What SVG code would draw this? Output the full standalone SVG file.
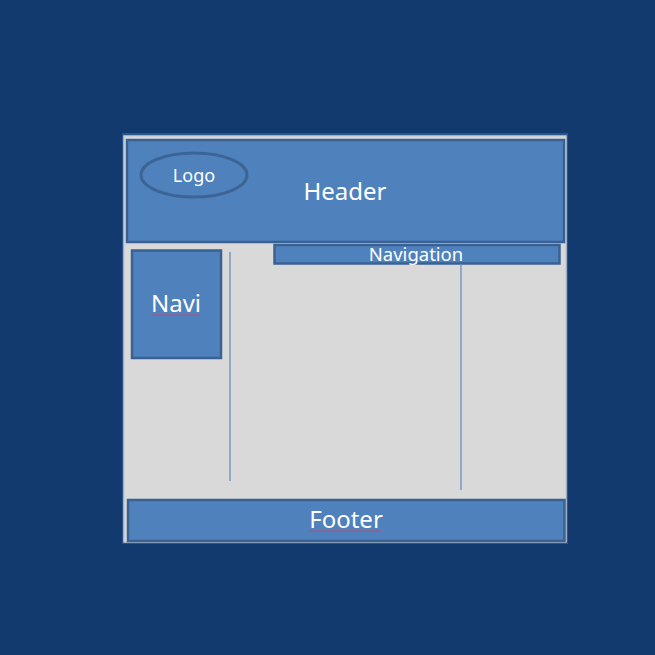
<svg xmlns="http://www.w3.org/2000/svg" width="655" height="655" viewBox="0 0 655 655">
<style>
.box{fill:#4f81bd;stroke:#3a6192;stroke-width:2.5}
.t{font-family:"Noto Sans","Open Sans",sans-serif;fill:#ffffff;text-anchor:middle;dominant-baseline:central}
.vl{stroke:#5a8ac4;stroke-width:1.2;fill:none}
.sq{stroke:#d04060;stroke-width:0.8;fill:none}
</style>
<rect x="0" y="0" width="655" height="655" fill="#123a6e"/>
<g id="page">
<rect x="122" y="133" width="446" height="411" fill="#2a5690"/>
<rect x="124" y="136" width="442" height="406" fill="#d9d9d9" stroke="#c4cbd4" stroke-width="1.5"/>
</g>
<g id="header">
<rect class="box" x="127" y="140" width="437" height="102"/>
<text class="t" x="345" y="190.5" font-size="24">Header</text>
</g>
<g id="logo">
<ellipse cx="194" cy="175" rx="53" ry="22" fill="#4f81bd" stroke="#3c6496" stroke-width="3"/>
<text class="t" x="194" y="175" font-size="18">Logo</text>
</g>
<g id="navigation">
<rect class="box" x="274.5" y="245" width="285" height="18.5"/>
<text class="t" x="416" y="253" font-size="18.5">Navigation</text>
</g>
<g id="navi">
<rect class="box" x="132" y="250.5" width="89" height="107.5"/>
<text class="t" x="176" y="302.5" font-size="24">Navi</text>
<path class="sq" d="M151 314.5 l2 1 2 -1 2 1 2 -1 2 1 2 -1 2 1 2 -1 2 1 2 -1 2 1 2 -1 2 1 2 -1 2 1 2 -1 2 1 2 -1 2 1 2 -1 2 1 2 -1 2 1 2 -1"/>
</g>
<g id="footer">
<rect class="box" x="128" y="500" width="436.5" height="41"/>
<text class="t" x="346" y="518.5" font-size="24">Footer</text>
<path class="sq" d="M309 530.5 l2 1 2 -1 2 1 2 -1 2 1 2 -1 2 1 2 -1 2 1 2 -1 2 1 2 -1 2 1 2 -1 2 1 2 -1 2 1 2 -1 2 1 2 -1 2 1 2 -1 2 1 2 -1 2 1 2 -1 2 1 2 -1 2 1 2 -1 2 1 2 -1 2 1 2 -1 2 1 2 -1"/>
</g>
<g id="connectors">
<line class="vl" x1="230" y1="252" x2="230" y2="481"/>
<line class="vl" x1="461" y1="264" x2="461" y2="490"/>
</g>
</svg>
